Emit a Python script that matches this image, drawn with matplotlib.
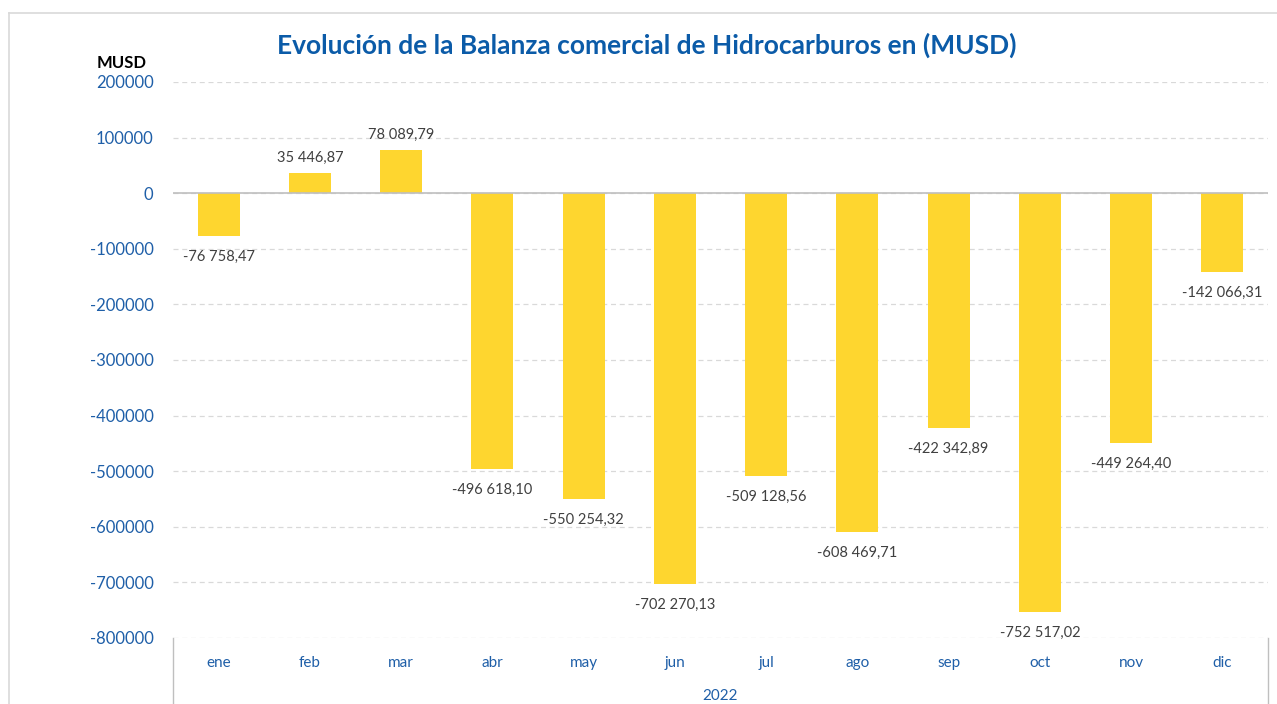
import matplotlib
matplotlib.use("Agg")
import matplotlib.pyplot as plt
from matplotlib.lines import Line2D
import numpy as np

# Balanza comercial de hidrocarburos 2022 (MUSD)
months = ["ene", "feb", "mar", "abr", "may", "jun", "jul", "ago", "sep", "oct", "nov", "dic"]
balance = [-76758.47, 35446.87, 78089.79, -496618.10, -550254.32, -702270.13,
           -509128.56, -608469.71, -422342.89, -752517.02, -449264.40, -142066.31]
year_label = "2022"
yticks = [200000, 100000, 0, -100000, -200000, -300000, -400000,
          -500000, -600000, -700000, -800000]

W, H = 1277, 704
blue = "#1F5FA8"
bar_col = "#FED62F"

plt.rcParams["font.family"] = ["Lato", "DejaVu Sans"]

fig = plt.figure(figsize=(W / 100, H / 100), dpi=100)
ax = fig.add_axes([173 / W, 1 - 638 / H, (1268 - 173) / W, (638 - 82) / H])

x = np.arange(len(months))
ax.bar(x, balance, width=0.46, color=bar_col, zorder=3)

ax.set_xlim(-0.5, len(months) - 0.5)
ax.set_ylim(-800000, 200000)
ax.set_yticks(yticks)
ax.set_yticklabels([str(v) for v in yticks])
ax.tick_params(axis="y", length=0, pad=14, labelsize=12, labelcolor=blue)
ax.set_xticks(x)
ax.set_xticklabels(months)
ax.tick_params(axis="x", length=0, pad=13, labelsize=11, labelcolor=blue)

for s in ax.spines.values():
    s.set_visible(False)
ax.grid(axis="y", color="#D9D9D9", linestyle=(0, (4, 3)), linewidth=0.9, zorder=0)
ax.axhline(0, color="#BFBFBF", linewidth=1.2, zorder=4)


def fmt(v):
    s = f"{abs(v):,.2f}".replace(",", " ").replace(".", ",")
    return ("-" if v < 0 else "") + s


for xi, v in zip(x, balance):
    off = 6 if v > 0 else -10
    ax.annotate(fmt(v), (xi, v), xytext=(0, off), textcoords="offset points",
                ha="center", va="bottom" if v > 0 else "top",
                fontsize=10.5, color="#404040", zorder=5)

# multi-level category axis lines
for xa in (0, 1):
    ax.add_line(Line2D([xa, xa], [0, -70 / 556], transform=ax.transAxes,
                       color="#BFBFBF", linewidth=1, clip_on=False))
ax.text(0.5, -0.104, year_label, transform=ax.transAxes, ha="center", va="center",
        fontsize=11, color=blue)

# chart border
fig.add_artist(Line2D([9 / W, 9 / W], [0, 1 - 13 / H], color="#D9D9D9", linewidth=1.2))
fig.add_artist(Line2D([9 / W, 1], [1 - 13 / H, 1 - 13 / H], color="#D9D9D9", linewidth=1.2))

fig.text(647 / W, 1 - 45 / H, "Evolución de la Balanza comercial de Hidrocarburos en (MUSD)",
         ha="center", va="center", fontsize=19, fontweight="bold", color="#0B5BA8")
fig.text(97 / W, 1 - 63 / H, "MUSD", ha="left", va="center", fontsize=12,
         fontweight="bold", color="black")

fig.savefig("out.png", dpi=100)
